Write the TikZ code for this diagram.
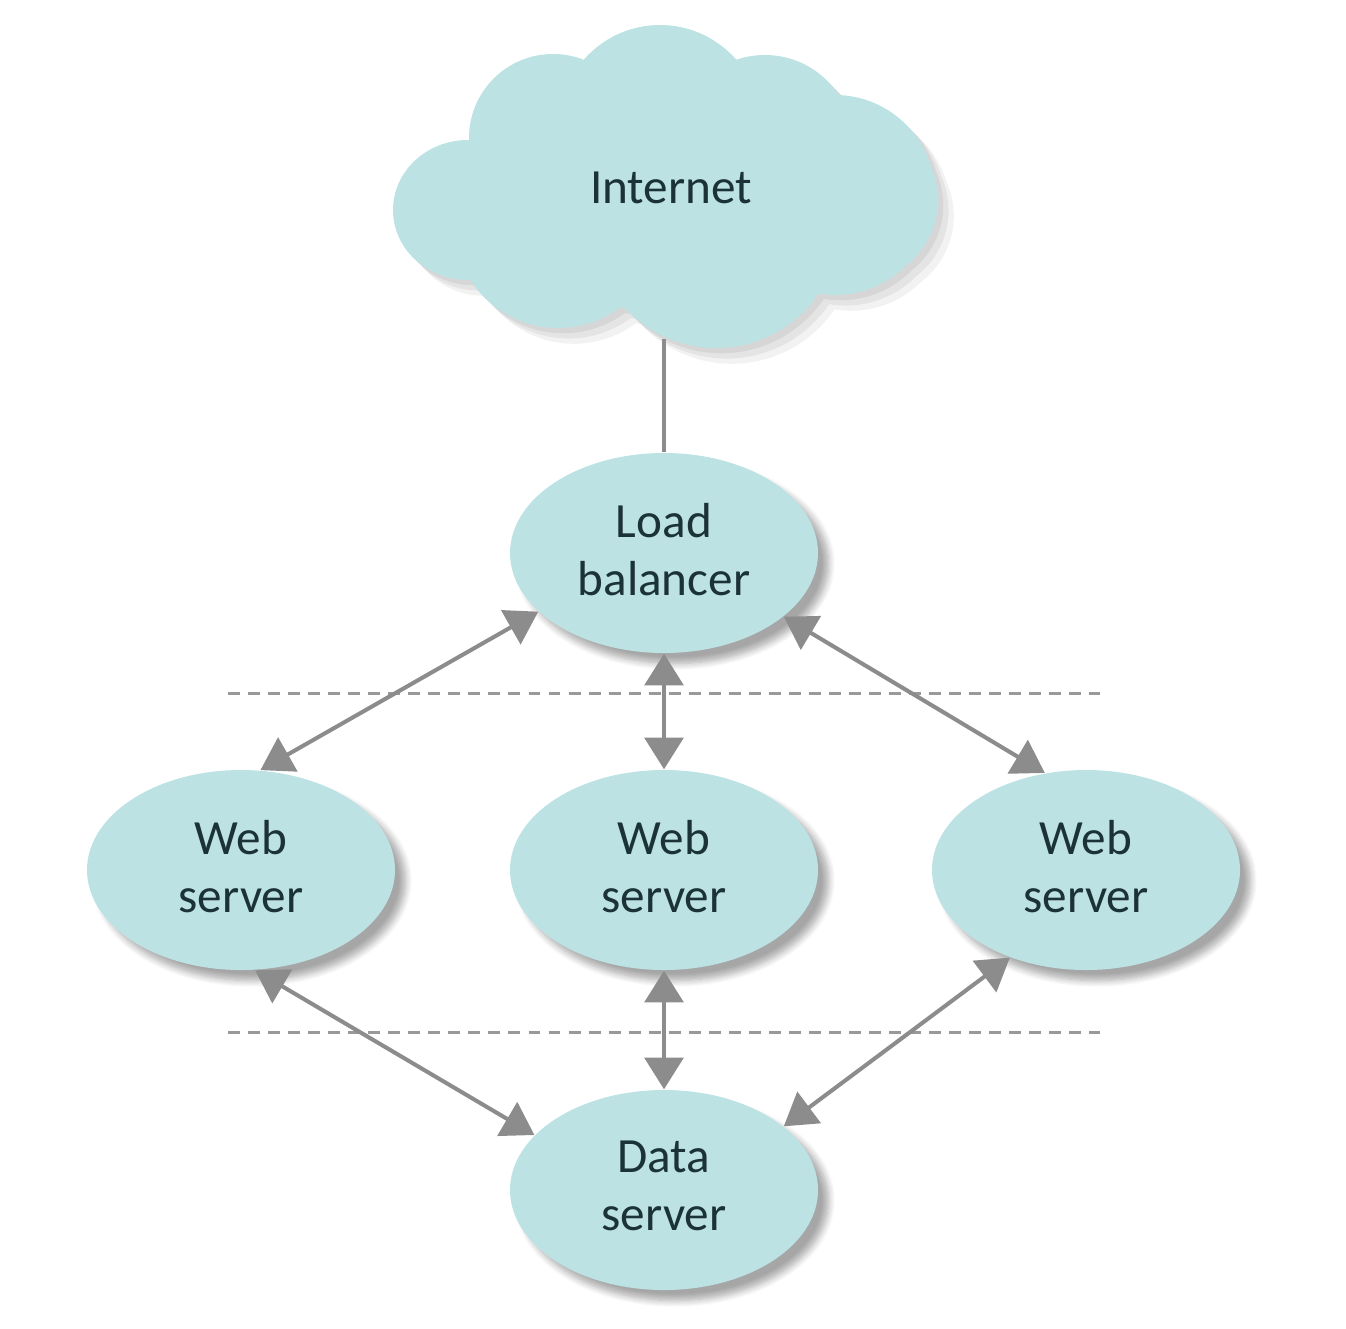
\documentclass[tikz,border=0pt]{standalone}
\usepackage{fontspec}
\setmainfont{Carlito}
\usetikzlibrary{arrows.meta}
\usetikzlibrary{shapes.geometric}
\usetikzlibrary{shadows.blur}
\usetikzlibrary{positioning}

\definecolor{tealfill}{HTML}{BCE2E4}
\definecolor{tealtext}{HTML}{1B3236}
\definecolor{linkgray}{HTML}{8C8C8C}
\definecolor{dashgray}{HTML}{999999}

\tikzset{
  server/.style={ellipse, fill=tealfill, minimum width=3.08cm, minimum height=2cm,
    inner sep=0pt, align=center, text=tealtext, text depth=2.2pt,
    font=\fontsize{14}{16.5}\selectfont,
    blur shadow={shadow xshift=3pt, shadow yshift=-3pt, shadow blur steps=8, shadow opacity=35}},
  link/.style={linkgray, line width=1.15pt,
    {Triangle[length=9pt, width=11pt]}-{Triangle[length=9pt, width=11pt]}},
  tier/.style={dashgray, line width=0.85pt, dash pattern=on 3.4pt off 2.3pt}
}

% puffs of the cloud, one path
\newcommand{\cloudpuffs}{
  (6.60,-1.26) circle (1.01)
  (5.53,-1.38) circle (0.84)
  (7.65,-1.43) circle (0.88)
  (8.55,-2.00) circle (0.83)
  (8.35,-1.95) circle (1.00)
  (7.16,-2.24) circle (1.24)
  (5.58,-2.24) circle (1.04)
  (4.68,-2.10) ellipse (0.75 and 0.70)
  (6.65,-2.00) ellipse (2.20 and 1.10)
}

\begin{document}
\begin{tikzpicture}
\useasboundingbox (0,0) rectangle (13.46,-13.28);

% cloud
\fill [black, opacity=0.06] [shift={(1.5pt,-1.5pt)}] \cloudpuffs;
\fill [black, opacity=0.06] [shift={(3pt,-3pt)}] \cloudpuffs;
\fill [black, opacity=0.05] [shift={(4.5pt,-4.5pt)}] \cloudpuffs;
\fill [tealfill] \cloudpuffs;
\node (net) at (6.71,-1.88) [ellipse, minimum width=5.4cm, minimum height=3.0cm,
  inner sep=0pt, text=tealtext, font=\fontsize{14}{16.5}\selectfont] {Internet};

\node (lb) at (6.64,-5.53) [server] {Load\\balancer};
\node (wl) at (2.41,-8.70) [server] {Web\\server};
\node (wm) at (6.64,-8.70) [server] {Web\\server};
\node (wr) at (10.86,-8.70) [server] {Web\\server};
\node (ds) at (6.64,-11.90) [server] {Data\\server};

% tiers
\coordinate (t1a) at (2.28,-6.93);
\coordinate (t1b) at (11.00,-6.93);
\coordinate (t2a) at (2.28,-10.32);
\coordinate (t2b) at (11.00,-10.32);
\draw [tier] (t1a) -- (t1b);
\draw [tier] (t2a) -- (t2b);

\draw [linkgray, line width=0.9pt] (lb.north |- net.south) -- (lb.north);

\draw [link] (lb.205) -- (wl.79);
\draw [link] (lb.south) -- (wm.north);
\draw [link] (lb.332) -- (wr.113);

\draw [link] (wl.278) -- (ds.157);
\draw [link] (wm.south) -- (ds.north);
\draw [link] (wr.229) -- (ds.28);

\end{tikzpicture}
\end{document}
